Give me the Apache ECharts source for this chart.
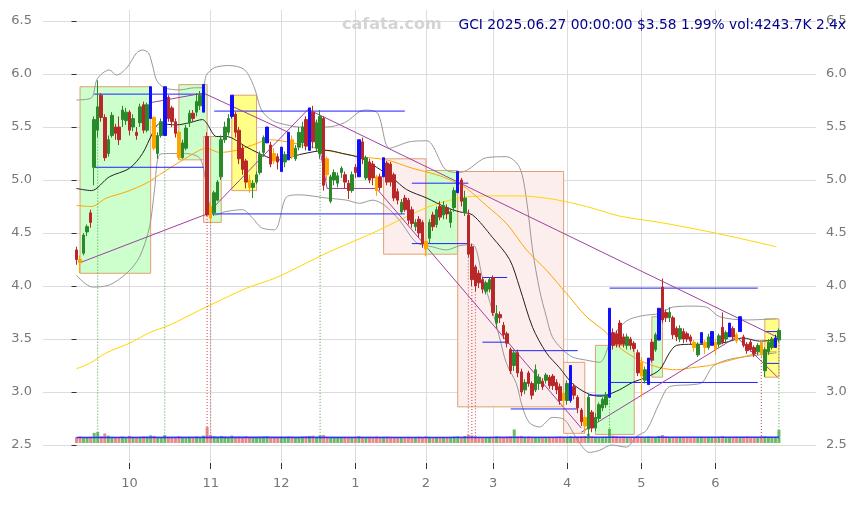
<!DOCTYPE html>
<html><head><meta charset="utf-8">
<script src="https://cdn.jsdelivr.net/npm/echarts@6/dist/echarts.min.js"></script>
<style>html,body{margin:0;padding:0;background:#fff}#c{width:858px;height:505px}</style>
</head><body><div id="c"></div>
<script>
// ---------- DATA ----------
const PAD_L = 9, PAD_R = 10;
// [open, close, low, high] per trading day, 2024-09-10 .. 2025-06-27
const candles = [
[4.34,4.25,4.20,4.37],[4.25,4.22,4.12,4.29],[4.31,4.48,4.29,4.50],[4.51,4.56,4.47,4.58],[4.69,4.60,4.55,4.72],
[5.12,5.57,4.95,5.60],[5.47,5.69,5.40,5.94],[5.80,5.59,5.55,5.82],[5.59,5.21,5.18,5.62],[5.25,5.38,5.22,5.42],
[5.42,5.61,5.40,5.64],[5.50,5.44,5.38,5.53],[5.50,5.38,5.33,5.60],[5.57,5.66,5.50,5.70],[5.56,5.64,5.52,5.68],
[5.64,5.47,5.42,5.66],[5.50,5.58,5.46,5.62],[5.45,5.42,5.38,5.50],[5.54,5.69,5.50,5.72],[5.71,5.47,5.44,5.74],
[5.47,5.71,5.45,5.73],[5.58,5.88,5.58,5.88],[5.59,5.30,5.28,5.60],[5.25,5.42,5.20,5.45],[5.42,5.55,5.40,5.58],
[5.42,5.88,5.42,5.88],[5.78,5.58,5.55,5.80],[5.68,5.55,5.50,5.70],[5.55,5.44,5.40,5.58],[5.45,5.21,5.19,5.47],
[5.21,5.35,5.20,5.38],[5.30,5.49,5.28,5.52],[5.54,5.63,5.50,5.66],[5.63,5.58,5.55,5.66],[5.64,5.74,5.60,5.82],
[5.70,5.80,5.66,5.84],[5.64,5.90,5.64,5.90],[5.41,4.67,4.66,5.45],[4.75,4.64,4.60,4.80],[4.69,4.88,4.66,4.90],
[4.81,4.98,4.80,5.00],[5.03,5.38,5.00,5.42],[5.38,5.50,5.35,5.55],[5.45,5.58,5.42,5.62],[5.60,5.80,5.58,5.80],
[5.62,5.45,5.40,5.64],[5.47,5.20,5.15,5.50],[5.30,5.10,5.05,5.33],[5.18,4.98,4.92,5.20],[5.00,4.93,4.88,5.05],
[4.93,4.97,4.83,5.00],[4.98,5.05,4.96,5.08],[5.07,5.24,5.05,5.27],[5.26,5.40,5.22,5.42],[5.35,5.50,5.35,5.50],
[5.33,5.15,5.12,5.36],[5.25,5.18,5.15,5.30],[5.22,5.17,5.10,5.25],[5.08,5.31,5.08,5.31],[5.17,5.24,5.12,5.27],
[5.19,5.45,5.19,5.45],[5.38,5.22,5.20,5.42],[5.20,5.30,5.18,5.33],[5.31,5.45,5.28,5.50],[5.35,5.50,5.30,5.55],
[5.57,5.32,5.28,5.60],[5.28,5.68,5.28,5.68],[5.64,5.36,5.30,5.70],[5.30,5.54,5.27,5.57],[5.25,5.60,5.20,5.66],
[5.58,4.95,4.90,5.60],[5.20,5.05,5.00,5.22],[4.80,5.03,4.78,5.05],[5.00,5.07,4.95,5.10],[4.97,5.04,4.93,5.07],
[5.07,5.11,5.02,5.13],[5.05,4.98,4.92,5.08],[4.97,4.90,4.82,5.00],[4.90,5.05,4.88,5.08],[5.12,5.07,5.02,5.15],
[5.03,5.38,5.03,5.38],[5.36,5.20,5.15,5.40],[5.02,5.21,5.00,5.23],[5.17,5.00,4.97,5.20],[5.15,5.02,4.95,5.18],
[5.03,4.90,4.85,5.05],[5.03,4.93,4.90,5.06],[5.03,5.21,5.03,5.21],[5.16,4.98,4.95,5.18],[5.15,4.98,4.94,5.17],
[5.05,4.83,4.80,5.07],[4.89,4.81,4.77,4.92],[4.70,4.79,4.68,4.82],[4.83,4.72,4.70,4.86],[4.81,4.62,4.58,4.83],
[4.72,4.59,4.55,4.75],[4.56,4.60,4.52,4.63],[4.63,4.50,4.46,4.66],[4.60,4.40,4.36,4.62],[4.42,4.35,4.28,4.45],
[4.45,4.60,4.40,4.63],[4.67,4.56,4.52,4.70],[4.58,4.72,4.55,4.75],[4.75,4.65,4.62,4.80],[4.67,4.76,4.63,4.80],
[4.74,4.68,4.63,4.77],[4.60,4.70,4.55,4.73],[4.74,4.90,4.70,4.93],[4.88,5.08,4.88,5.08],[5.00,4.80,4.75,5.02],
[4.69,4.83,4.66,4.90],[4.67,4.30,4.27,4.72],[4.37,4.06,4.00,4.40],[4.18,4.00,3.95,4.20],[4.12,4.03,3.98,4.15],
[4.06,3.97,3.93,4.08],[3.95,4.03,3.92,4.05],[3.97,4.06,3.94,4.08],[4.08,3.75,3.72,4.10],[3.65,3.74,3.60,3.82],
[3.73,3.70,3.65,3.76],[3.63,3.54,3.50,3.66],[3.55,3.46,3.42,3.57],[3.40,3.20,3.17,3.42],[3.25,3.37,3.20,3.40],
[3.37,3.18,3.14,3.40],[3.19,3.00,2.96,3.22],[3.02,3.09,2.98,3.12],[3.18,3.08,3.05,3.20],[3.08,2.97,2.93,3.10],
[3.02,3.21,3.00,3.26],[3.08,3.14,3.02,3.17],[3.10,3.05,3.02,3.13],[3.11,3.16,3.08,3.18],[3.14,3.06,3.03,3.16],
[3.15,3.06,3.02,3.17],[3.09,3.02,2.98,3.12],[3.05,2.92,2.88,3.08],[2.99,2.92,2.85,3.00],[2.92,3.08,2.88,3.11],
[2.92,3.25,2.90,3.25],[3.05,2.97,2.93,3.08],[2.95,2.85,2.80,2.97],[2.83,2.72,2.68,2.85],[2.76,2.68,2.61,2.78],
[2.65,2.95,2.56,2.98],[2.81,2.66,2.62,2.83],[2.66,2.76,2.63,2.80],[2.75,2.88,2.72,2.90],[2.85,2.93,2.82,2.95],
[2.88,2.97,2.85,3.00],[2.95,3.79,2.95,3.79],[3.56,3.44,3.40,3.60],[3.55,3.45,3.42,3.58],[3.65,3.45,3.42,3.68],
[3.52,3.45,3.42,3.55],[3.44,3.52,3.40,3.55],[3.50,3.44,3.40,3.52],[3.46,3.41,3.38,3.48],[3.37,3.18,3.15,3.40],
[3.28,3.15,2.95,3.33],[3.11,3.21,3.08,3.24],[3.07,3.32,3.07,3.32],[3.47,3.30,3.28,3.50],[3.40,3.54,3.38,3.56],
[3.49,3.79,3.49,3.79],[3.99,3.68,3.65,4.07],[3.75,3.70,3.66,3.78],[3.70,3.75,3.66,3.80],[3.70,3.54,3.50,3.72],
[3.60,3.52,3.48,3.62],[3.50,3.60,3.47,3.63],[3.57,3.50,3.46,3.60],[3.55,3.50,3.47,3.57],[3.52,3.48,3.45,3.54],
[3.47,3.42,3.38,3.49],[3.35,3.45,3.33,3.47],[3.46,3.56,3.46,3.56],[3.47,3.42,3.36,3.49],[3.42,3.52,3.40,3.55],
[3.44,3.57,3.44,3.57],[3.47,3.40,3.35,3.50],[3.45,3.53,3.42,3.55],[3.61,3.47,3.45,3.75],[3.50,3.56,3.47,3.58],
[3.52,3.65,3.52,3.65],[3.60,3.52,3.50,3.62],[3.54,3.48,3.46,3.56],[3.57,3.71,3.57,3.71],[3.52,3.44,3.42,3.54],
[3.45,3.39,3.36,3.47],[3.47,3.40,3.38,3.50],[3.42,3.36,3.33,3.44],[3.38,3.44,3.35,3.46],[3.47,3.36,3.33,3.48],
[3.20,3.40,3.14,3.42],[3.38,3.47,3.35,3.50],[3.42,3.50,3.40,3.52],[3.42,3.51,3.42,3.54],[3.49,3.58,3.47,3.60]
];
const blueIdx = [21,25,36,44,54,58,60,66,80,87,108,140,151,162,165,177,180,185,188,198];
const orangeIdx = [1,22,29,38,49,56,61,71,85,99,138,144,160,175,178,181,187,194];
const volumes = [
1900,2100,1800,1700,2000,3300,3600,2200,3100,2400,
2000,1800,1900,2100,1700,2300,1900,1800,2000,2200,
2100,2500,2300,1900,1800,2600,2000,1900,1800,2200,
1700,1900,2000,1800,2100,1900,2400,5200,2600,2200,
2000,2300,2100,1900,2400,2000,2100,1900,2200,1800,
1700,1900,2000,2100,2200,1900,1800,1700,2000,1900,
2100,2000,1800,1900,2100,2200,2300,2400,2000,2500,
2600,2000,1900,1800,1700,1900,2000,1800,1900,2000,
2200,1900,1800,2000,1900,2100,1800,2000,2100,2000,
1900,1800,1700,1900,2000,1800,1900,2100,1800,2200,
2000,1900,1800,1700,1900,1800,2000,2100,2200,2000,
2300,2700,2500,2200,2000,1900,1800,1900,2000,2200,
2100,2000,2100,2200,4400,2200,2300,2000,2100,2000,
1900,1800,1900,1700,1800,1900,2000,2100,2000,1900,
2200,2000,2100,2200,2300,3000,2200,2000,1900,2000,
2100,4600,2400,2200,2000,2100,1900,1800,1900,2200,
2000,1900,2100,2000,1900,2300,2600,2100,1900,1800,
1900,1800,1700,1800,1900,1700,1800,2000,1900,1800,
1900,1800,2000,2200,1900,1800,1900,2000,1800,2000,
2100,1900,2000,1900,2100,2200,2000,1900,2000,4244
];
const volAvg = [[0,1800],[50,1850],[100,1800],[150,1900],[199,1850]];
const monthStartIdx = [15,38,58,79,99,118,139,160,181];
const monthLabels = ['10','11','12','1','2','3','4','5','6'];
const priceTicks = {min:2.5, max:6.5, step:0.5};
// indicator lines as [day index, price]
const bbUpper = [[0,5.755],[4.2,5.774],[5.7,5.943],[7.4,6.009],[9.3,6.038],[11.3,5.99],[14.2,6.057],[17,6.198],[18.7,6.226],[20.4,6.198],[21.5,6.085],[22.7,5.94],[24.9,5.87],[29.2,5.85],[33.4,5.87],[35.7,5.87],[36.8,5.99],[39.1,6.06],[43.3,6.08],[47.6,6.04],[50.4,5.87],[52.4,5.66],[55.5,5.56],[59.5,5.52],[63.2,5.5],[70.8,5.5],[75.9,5.54],[81.6,5.66],[85.3,5.63],[88.7,5.3],[94.3,5.36],[99.2,5.37],[104.5,5.1],[108,5.07],[110.5,5.09],[116.1,5.21],[121.8,5.22],[125.5,5.12],[127.5,4.81],[129.2,4.34],[131.2,3.96],[133.1,3.71],[134.8,3.52],[137.7,3.4],[140.5,3.33],[144.5,3.3],[148.2,3.28],[151.8,3.52],[155.8,3.67],[160.3,3.72],[165.1,3.74],[168.8,3.8],[174.5,3.81],[178.5,3.8],[182.2,3.71],[189.8,3.68],[198.3,3.69]];
const bbLower = [[0,4.1],[4.5,3.99],[9.3,4.01],[14.2,4.12],[17.8,4.27],[20.7,4.56],[22.1,4.91],[23.5,5.24],[26.3,5.25],[30.6,5.25],[34.8,5.21],[36.3,5.05],[37.7,4.76],[39.4,4.67],[41.9,4.7],[47,4.72],[49.9,4.64],[52.4,4.55],[56.1,4.53],[59.5,4.84],[63.2,4.86],[70.8,4.83],[76.5,4.81],[80.2,4.78],[83.9,4.81],[87.3,4.76],[91.5,4.62],[96.3,4.41],[100.8,4.37],[104.8,4.34],[108.5,4.38],[112.2,4.39],[115,4.08],[117.8,3.77],[119.8,3.52],[121.8,3.27],[124.6,3.08],[126.3,2.86],[128.3,2.71],[131.2,2.67],[134.8,2.76],[138.2,2.74],[141.9,2.55],[145.3,2.43],[148.2,2.45],[151.6,2.5],[155.8,2.48],[158.6,2.58],[161.5,2.64],[165.2,2.9],[168,3.05],[174.5,3.07],[177.3,3.09],[180.2,3.24],[184.1,3.3],[188.7,3.33],[193.5,3.35],[198.3,3.37]];
const maShort = [[0,4.92],[4.2,4.9],[9.3,5.03],[15,5.11],[18.7,5.25],[21.5,5.44],[23.5,5.53],[28.3,5.52],[32,5.54],[35.7,5.57],[36.8,5.54],[39.7,5.41],[42.5,5.41],[48.2,5.31],[53.8,5.22],[57.5,5.19],[63.2,5.24],[70.8,5.28],[75.4,5.25],[80.2,5.21],[85,5.12],[89.5,5.02],[93.5,4.91],[99.2,4.83],[104.8,4.74],[108.5,4.7],[112.2,4.67],[117.8,4.46],[122.7,4.25],[125.5,3.99],[129.2,3.61],[133.1,3.37],[136.8,3.23],[140.5,3.08],[144.5,2.99],[148.2,2.96],[150.1,2.97],[153.8,3.02],[157.5,3.09],[161.5,3.14],[165.2,3.21],[168,3.37],[170,3.44],[174.5,3.45],[179.3,3.45],[184.1,3.47],[188.7,3.51],[193.5,3.48],[198.3,3.49]];
const maMid = [[0,4.76],[4.2,4.75],[8.5,4.83],[14.2,4.89],[19.8,4.97],[23.5,5.05],[29.2,5.17],[34.8,5.28],[36.8,5.3],[40.5,5.26],[45.3,5.28],[49.9,5.33],[54.7,5.38],[61.2,5.35],[70.8,5.28],[80.2,5.22],[87.8,5.19],[95.2,5.11],[102,5.05],[106.5,4.99],[110.5,4.92],[116.1,4.76],[121.8,4.59],[127.5,4.34],[133.1,4.15],[138.8,3.93],[144.5,3.71],[150.1,3.56],[153.8,3.42],[159.5,3.3],[165.2,3.23],[170,3.21],[174.5,3.23],[179.3,3.25],[184.1,3.29],[188.7,3.33],[193.5,3.37],[198.3,3.38]];
const maLong = [[0,3.22],[3.7,3.27],[8.5,3.37],[15,3.46],[20.7,3.56],[26.3,3.63],[34.8,3.77],[48.2,3.98],[56.7,4.08],[70.8,4.31],[83.9,4.5],[99.2,4.74],[108.5,4.83],[116.1,4.85],[125.5,4.85],[134.8,4.82],[144.5,4.75],[153.8,4.66],[165.2,4.6],[176.5,4.53],[187.8,4.45],[198.3,4.37]];
// boxes: [startDay, endDay, low, high, kind]
const boxes = [[1,21,4.12,5.88,'g'],[29,37,5.19,5.9,'g'],[36,38,4.6,5.41,'p'],[38,41,4.6,5.41,'g'],[44,51,4.9,5.8,'y'],
[87,99,4.3,5.2,'p'],[99,108,4.3,5.09,'g'],[108,138,2.86,5.08,'p'],[138,144,2.61,3.28,'p'],[147,158,2.6,3.44,'g'],
[163,166,3.14,3.71,'g'],[195,199,3.14,3.69,'y']];
// horizontal levels: [startDay, endDay, price]
const levels = [[5,36,5.81],[5,36,5.12],[39,93,5.65],[38,93,4.68],[95,111,4.97],[95,111,4.4],[115,122,4.08],[115,122,3.47],
[123,142,3.39],[123,142,2.84],[145,151,2.97],[151,193,3.98],[151,193,3.09],[195,199,3.57],[195,199,3.27]];
// trend lines (polylines of [day, price])
const trends = [
[[1,4.22],[37,4.68],[66,5.68]],
[[21,5.73],[36,5.82],[60,5.45]],
[[66,5.66],[199,3.51]],
[[67,5.64],[71,4.92],[85,4.92],[143,2.66]],
[[143,2.62],[187,3.52],[198.6,3.14]]
];
const upSignals = [6,25,69,151,199];
const downSignals = [37,38,111,112,113,194];
const infoText = 'GCI 2025.06.27 00:00:00 $3.58 1.99% vol:4243.7K 2.4x';
const watermark = 'cafata.com';

// ---------- BUILD ----------
const N = PAD_L + candles.length + PAD_R;
const cats = Array.from({length:N}, (_, k) => 'd' + k);
const monthByCat = {};
monthStartIdx.forEach((d, k) => monthByCat[d + PAD_L] = monthLabels[k]);
const blueSet = new Set(blueIdx), orangeSet = new Set(orangeIdx);
const solid = c => ({color:c, color0:c, borderColor:c, borderColor0:c});
const kData = cats.map((_, k) => {
  const d = k - PAD_L;
  if (d < 0 || d >= candles.length) return ['-','-','-','-'];
  const v = candles[d];
  if (blueSet.has(d)) return {value:v, itemStyle:solid('#1010ff')};
  if (orangeSet.has(d)) return {value:v, itemStyle:solid('#ffa500')};
  return v;
});
const volData = volumes.map((v, d) => ({value:[d, v], itemStyle:{color: candles[d][1] >= candles[d][0] ? 'rgba(70,170,70,0.8)' : 'rgba(225,110,110,0.8)'}}));
const X0 = -PAD_L - 0.5, X1 = candles.length + PAD_R - 0.5;
const ov = (extra) => Object.assign({type:'line', xAxisIndex:1, yAxisIndex:0, symbol:'none', silent:true, clip:false, animation:false}, extra);
const boxStyle = {
  g:{color:'#ccffcc', borderColor:'#e0a070', borderWidth:1},
  y:{color:'#ffff88', borderColor:'#e0a070', borderWidth:1},
  p:{color:'#fdeeee', borderColor:'#e0a070', borderWidth:1}
};
const series = [];
series.push(ov({data:[], z:1, markArea:{silent:true, data: boxes.map(b => [{xAxis:b[0], yAxis:b[3], itemStyle:boxStyle[b[4]]},{xAxis:b[1], yAxis:b[2]}])}}));
series.push(ov({data:bbUpper, smooth:0.3, z:2, lineStyle:{color:'#999', width:1}}));
series.push(ov({data:bbLower, smooth:0.3, z:2, lineStyle:{color:'#999', width:1}}));
series.push(ov({data:maLong, smooth:0.3, z:2, lineStyle:{color:'#ffd700', width:1}}));
series.push(ov({data:maMid, smooth:0.3, z:2, lineStyle:{color:'#ffa500', width:1}}));
series.push(ov({data:maShort, smooth:0.3, z:2, lineStyle:{color:'#222', width:1}}));
levels.forEach(l => series.push(ov({data:[[l[0], l[2]],[l[1], l[2]]], z:3, lineStyle:{color:'#2222ff', width:1}})));
trends.forEach(t => series.push(ov({data:t, z:3, lineStyle:{color:'#a040a0', width:1}})));
upSignals.forEach(d => series.push(ov({data:[[d, candles[d][2]],[d, 2.55]], z:3, lineStyle:{color:'#40a040', width:1, type:[1,2]}})));
downSignals.forEach(d => series.push(ov({data:[[d, candles[d][2]],[d, 2.55]], z:3, lineStyle:{color:'#d04040', width:1, type:[1,2]}})));
series.push({type:'candlestick', xAxisIndex:0, yAxisIndex:0, data:kData, barWidth:3, z:5, silent:true, animation:false,
  itemStyle:{color:'#2a8a2a', color0:'#b82828', borderColor:'#2a8a2a', borderColor0:'#b82828', borderWidth:1}});
series.push({type:'bar', xAxisIndex:3, yAxisIndex:3, data:volData, barWidth:3, z:4, silent:true, animation:false});
series.push({type:'line', xAxisIndex:3, yAxisIndex:3, data:volAvg, symbol:'none', z:5, silent:true, animation:false, lineStyle:{color:'#3030ff', width:1.5}});

const lbl = {color:'#777', fontSize:13, fontFamily:'DejaVu Sans'};
const option = {
  animation:false,
  backgroundColor:'#fff',
  grid:[
    {left:43, right:42, top:21, bottom:60},
    {left:43, right:42, top:10, bottom:42},
    {left:43, right:42, top:423, bottom:62}
  ],
  xAxis:[
    {type:'category', gridIndex:0, data:cats, show:false, boundaryGap:true},
    {type:'value', gridIndex:0, min:X0, max:X1, show:false},
    {type:'category', gridIndex:1, data:cats, boundaryGap:true, offset:6,
      axisLine:{show:false},
      axisTick:{show:true, alignWithLabel:true, length:6, lineStyle:{color:'#333'}, interval:(i) => monthByCat[i] !== undefined},
      axisLabel:Object.assign({interval:(i) => monthByCat[i] !== undefined, formatter:(v, i) => monthByCat[i] || '', margin:8}, lbl),
      splitLine:{show:true, alignWithLabel:true, interval:(i) => monthByCat[i] !== undefined, lineStyle:{color:'#dcdcdc', width:1}}},
    {type:'value', gridIndex:2, min:X0, max:X1, show:false}
  ],
  yAxis:[
    {type:'value', gridIndex:0, position:'left', min:priceTicks.min, max:priceTicks.max, interval:priceTicks.step,
      axisLine:{show:false}, axisTick:{show:true, length:5, lineStyle:{color:'#333'}},
      axisLabel:Object.assign({margin:11, formatter:v => v.toFixed(1)}, lbl),
      splitLine:{show:true, lineStyle:{color:'#dcdcdc', width:1}}},
    {type:'value', gridIndex:0, position:'right', min:priceTicks.min, max:priceTicks.max, interval:priceTicks.step,
      axisLine:{show:false}, axisTick:{show:false},
      axisLabel:Object.assign({margin:10, formatter:v => v.toFixed(1)}, lbl), splitLine:{show:false}},
    {type:'value', gridIndex:1, show:false},
    {type:'value', gridIndex:2, min:0, max:6500, show:false}
  ],
  graphic:[
    {type:'text', left:342, top:17, z:100, style:{text:watermark, fill:'#d4d4d4', font:'bold 16px "DejaVu Sans"'}},
    {type:'text', right:12, top:18, z:100, style:{text:infoText, fill:'#00008b', font:'13.8px "DejaVu Sans"'}}
  ],
  series:series
};
const chart = echarts.init(document.getElementById('c'), null, {renderer:'canvas'});
chart.setOption(option);
</script></body></html>
